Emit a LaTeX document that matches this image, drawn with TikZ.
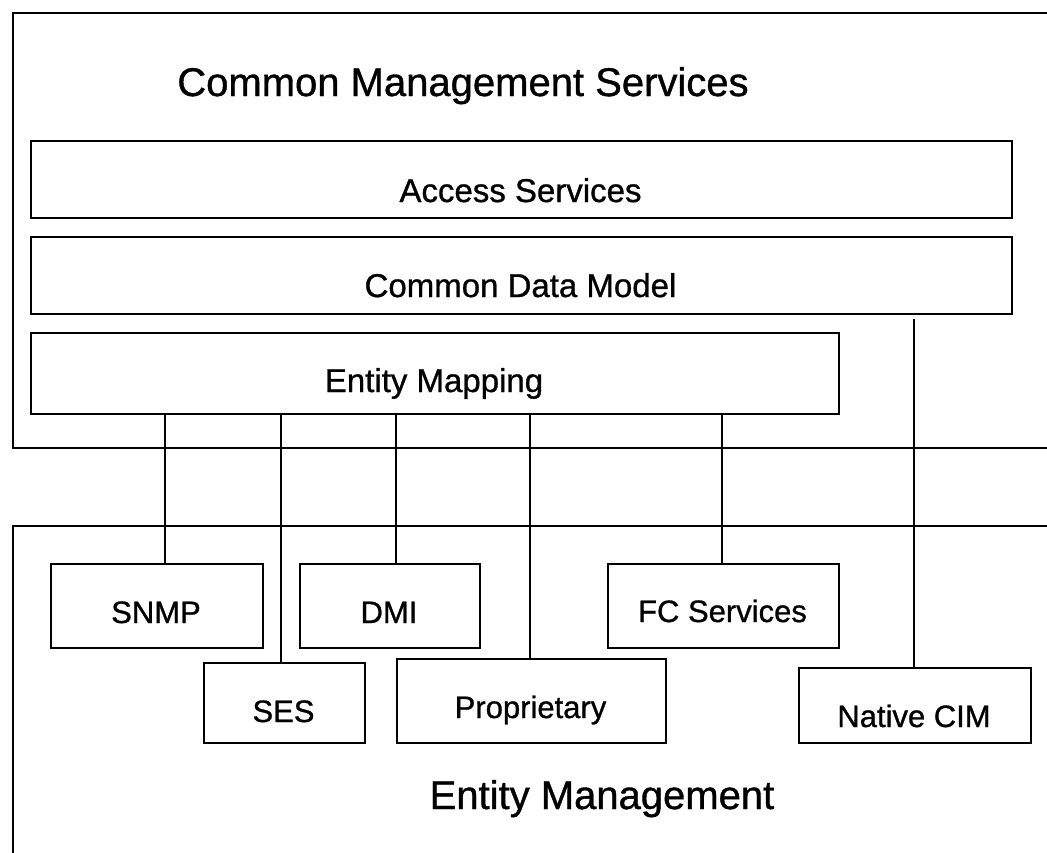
\documentclass[tikz,border=0pt]{standalone}
\usepackage{fontspec}
\setmainfont{Liberation Sans}[BoldFont=Liberation Sans, BoldFeatures={FakeBold=0.9}]

\tikzset{
  box/.style={draw, line width=2pt, rectangle, inner sep=0pt, anchor=north west},
  outer/.style={draw, line width=2.2pt, rectangle, inner sep=0pt, anchor=north west},
  big/.style={font=\fontsize{40}{48}\selectfont\bfseries, anchor=base},
  mid/.style={font=\fontsize{33}{40}\selectfont\bfseries, anchor=base},
  small/.style={font=\fontsize{31}{37}\selectfont\bfseries, anchor=base},
  wire/.style={line width=2pt}
}

\begin{document}
\begin{tikzpicture}[x=1pt,y=-1pt]
                \useasboundingbox (0,0) rectangle (1047,852);
                \clip (0,0) rectangle (1047,852);

                % the two layers
                \node(cms) [outer, minimum width=1060pt, minimum height=435pt] at (12,12) {};
                \node(emg) [outer, minimum width=1060pt, minimum height=360pt] at (12,525) {};
                \node(cmst) [big] at (463,96) {Common Management Services};
                \node(emgt) [big] at (602,809) {Entity Management};

                % common management services
                \node(acc) [box, minimum width=981pt, minimum height=77pt] at (30,140) {};
                \node(cdm) [box, minimum width=981pt, minimum height=77pt] at (30,236) {};
                \node(em) [box, minimum width=808pt, minimum height=81pt] at (30,332) {};
                \node(acct) [mid] at (520.5,202) {Access Services};
                \node(cdmt) [mid] at (520.5,297) {Common Data Model};
                \node(emt) [mid] at (434,392) {Entity Mapping};

                % entity management
                \node(snmp) [box, minimum width=212pt, minimum height=84pt] at (50,563) {};
                \node(dmi) [box, minimum width=180pt, minimum height=84pt] at (299,563) {};
                \node(fc) [box, minimum width=231pt, minimum height=84pt] at (607,563) {};
                \node(ses) [box, minimum width=161pt, minimum height=80pt] at (203,662) {};
                \node(prop) [box, minimum width=269pt, minimum height=84pt] at (396,658) {};
                \node(nat) [box, minimum width=232pt, minimum height=75pt] at (798,667) {};
                \node(snmpt) [small] at (156,623) {SNMP};
                \node(dmit) [small] at (389,623) {DMI};
                \node(fct) [small] at (722.5,622) {FC Services};
                \node(sest) [small] at (283.5,722) {SES};
                \node(propt) [small] at (530.5,718) {Proprietary};
                \node(natt) [small] at (914,727) {Native CIM};

                % taps
                \coordinate(tsnmp) at (165,413);
                \coordinate(tses) at (281,413);
                \coordinate(tdmi) at (396,413);
                \coordinate(tprop) at (530,413);
                \coordinate(tfc) at (722,413);
                \coordinate(tnat) at (914,319);

                \draw[wire] (tsnmp) -- (tsnmp |- snmp.north);
                \draw[wire] (tses) -- (tses |- ses.north);
                \draw[wire] (tdmi) -- (tdmi |- dmi.north);
                \draw[wire] (tprop) -- (tprop |- prop.north);
                \draw[wire] (tfc) -- (tfc |- fc.north);
                \draw[wire] (tnat) -- (tnat |- nat.north);
            \end{tikzpicture}
\end{document}
